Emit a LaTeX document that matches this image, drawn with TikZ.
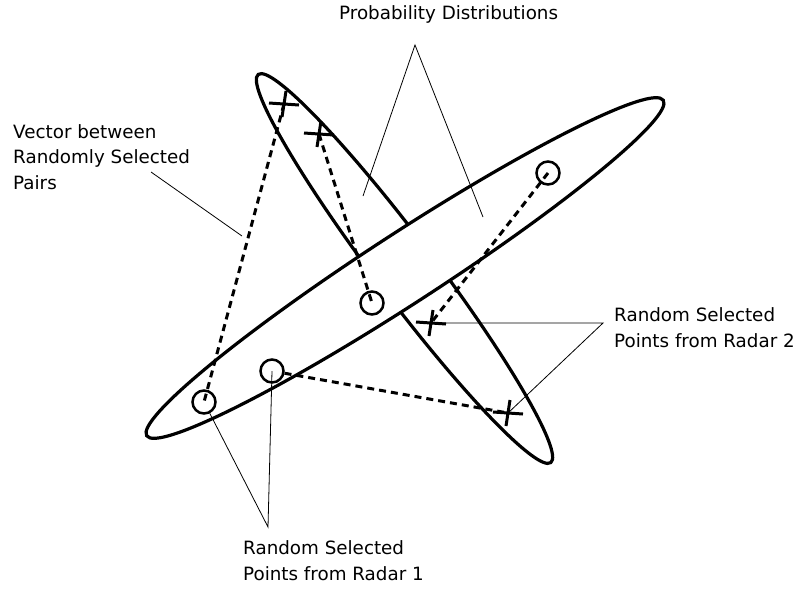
\documentclass[tikz,border=0pt]{standalone}
\usepackage{fontspec}
\setmainfont{DejaVu Sans}
\begin{document}
\begin{tikzpicture}[x=1pt,y=-1pt,
  outline/.style={line width=3.2pt},
  vec/.style={line width=3pt, dash pattern=on 7pt off 5pt},
  leader/.style={line width=0.8pt},
  ptcircle/.style={circle, draw, line width=2.5pt, minimum size=23pt, inner sep=0pt},
  xmark/.style={line width=3pt},
  lab/.style={font=\fontsize{18.3}{25.5}\selectfont, align=left, inner sep=0pt, anchor=base west}]
\useasboundingbox[fill=white] (0,0) rectangle (802,590);

% probability distributions
\draw[outline, rotate around={-53:(404.5,268.5)}] (404.5,268.5) ellipse [x radius=243, y radius=29.5];
\draw[outline, fill=white, rotate around={33:(405,268)}] (405,268) ellipse [x radius=308, y radius=35];

% points
\coordinate (x1) at (284,104);
\coordinate (x2) at (319,134);
\coordinate (x3) at (431,323);
\coordinate (x4) at (508,413);
\node[ptcircle] (c1) at (204,402) {};
\node[ptcircle] (c2) at (272,371) {};
\node[ptcircle] (c3) at (372,303) {};
\node[ptcircle] (c4) at (548,173) {};

% vectors between pairs
\draw[vec] (x1) -- (c1.center);
\draw[vec] (x2) -- (c3.center);
\draw[vec] (c4.center) -- (x3);
\draw[vec] (c2) -- (x4);

% crosses (radar 2)
\foreach \p in {x1,x2,x3,x4}
  \draw[xmark, shift={(\p)}] (-15,-1) -- (15,1) (2,-13) -- (-2,13);

% labels (base = baseline of last line)
\node[lab] (prob) at (339,19) {Probability Distributions};
\node[lab] (vecl) at (13,189) {Vector between\\Randomly Selected\\Pairs};
\node[lab] (r2) at (614,347) {Random Selected\\Points from Radar 2};
\node[lab] (r1) at (243,580) {Random Selected\\Points from Radar 1};

% leader lines
\coordinate (pa) at (415,45);
\coordinate (pe1) at (363,196);
\coordinate (pe2) at (483,217);
\draw[leader] (pe1) -- (pa) -- (pe2);
\coordinate (va) at (151,172);
\coordinate (ve) at (242,236);
\draw[leader] (va) -- (ve);
\coordinate (r2a) at (603,323);
\draw[leader] (x3) -- (r2a) -- (x4);
\coordinate (r1a) at (268,527);
\draw[leader] (c1) -- (r1a) -- (c2.center);
\end{tikzpicture}
\end{document}
